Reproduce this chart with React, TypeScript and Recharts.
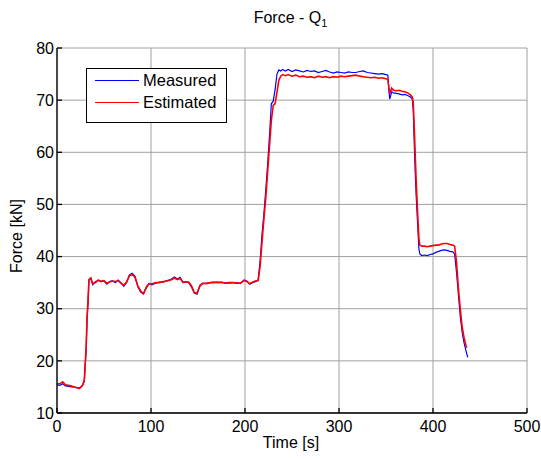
import { LineChart, Line, XAxis, YAxis, CartesianGrid } from "recharts";

const FONT = "'Liberation Sans', Arial, sans-serif";

const time = [
  0, 3, 6, 9, 12, 15, 18, 21, 24, 27,
  29, 30, 31, 32, 33, 34, 36,
  38, 41, 44, 47, 50, 53, 56, 59, 62, 65, 68, 71, 74, 77, 80, 83, 86, 89, 92, 95, 98, 101,
  105, 109, 113, 117, 121, 125, 128, 131, 134, 137, 140, 143, 146, 149, 152, 155, 159, 163,
  167, 171, 175, 179, 183, 187, 191, 195, 199, 202, 205, 208, 211,
  214, 216, 218, 220, 222, 224, 226, 228, 230, 232, 234, 236, 238, 240,
  243, 246, 250, 254, 258, 262, 266, 270, 274, 278, 282, 286, 290, 294, 298, 302, 306, 310,
  314, 318, 322, 326, 330, 334, 338, 342, 346, 350,
  352, 353, 354, 356, 358, 361, 364, 367, 370, 373, 376, 378,
  379, 380, 381, 382, 383, 384, 385, 386, 388,
  391, 394, 397, 400, 403, 406, 409, 412, 415, 418, 421,
  423, 425, 427, 429, 431, 433, 435, 436, 437,
];

const measured = [
  15.4, 15.3, 15.6, 15.2, 15.1, 15.0, 15.0, 14.8, 14.8, 15.2,
  16.0, 19.0, 22.0, 28.0, 31.0, 35.5, 35.8,
  34.6, 35.2, 35.4, 35.3, 35.3, 34.7, 35.2, 35.4, 35.0, 35.5, 35.0, 34.3, 35.0, 36.5, 36.8, 36.2, 34.2, 33.2, 32.8, 34.2, 34.9, 34.6,
  34.9, 35.1, 35.1, 35.4, 35.6, 36.1, 35.7, 36.0, 35.0, 35.2, 35.0, 34.2, 33.0, 32.8, 34.5, 34.8, 34.9, 35.0,
  35.0, 35.1, 35.0, 35.0, 34.9, 35.0, 35.0, 34.8, 35.5, 35.3, 34.7, 35.0, 35.2,
  35.5, 39.0, 44.0, 48.0, 52.5, 57.5, 63.0, 69.3, 69.8, 72.0, 75.0, 75.8, 75.6, 75.9,
  75.6, 75.9, 75.5, 75.8, 75.6, 75.4, 75.7, 75.5, 75.6, 75.3, 75.5, 75.7, 75.4, 75.2, 75.4, 75.3, 75.2, 75.4,
  75.3, 75.3, 75.5, 75.6, 75.3, 75.2, 75.1, 75.0, 75.1, 74.9,
  74.8, 72.0, 70.2, 71.6, 71.4, 71.3, 71.2, 71.0, 71.1, 70.9, 70.6, 70.2,
  68.0, 62.0, 56.5, 52.0, 48.5, 45.0, 41.5, 40.5, 40.2,
  40.3, 40.2, 40.4, 40.5, 40.8, 41.0, 41.2, 41.3, 41.2, 41.0, 40.9,
  40.5, 37.0, 32.8, 28.5, 25.5, 23.5, 22.0, 21.3, 20.7,
];

const estimated = [
  15.6, 15.6, 16.0, 15.4, 15.3, 15.2, 15.0, 14.9, 14.7, 15.3,
  16.2, 19.5, 22.5, 28.5, 31.5, 35.6, 35.9,
  34.8, 35.0, 35.5, 35.2, 35.4, 34.9, 35.1, 35.3, 35.2, 35.4, 34.9, 34.5, 35.1, 36.3, 36.6, 36.0, 34.4, 33.4, 32.9, 34.0, 34.8, 34.8,
  35.0, 35.0, 35.2, 35.3, 35.5, 35.9, 35.6, 35.8, 35.1, 35.1, 35.1, 34.4, 33.1, 33.0, 34.3, 34.9, 34.8, 35.0,
  35.1, 35.0, 35.1, 34.9, 35.0, 35.0, 34.9, 34.9, 35.4, 35.2, 34.8, 35.1, 35.3,
  35.4, 38.0, 42.5, 47.0, 51.0, 56.0, 61.0, 66.0, 69.0, 69.3, 71.5, 73.8, 74.6, 74.9,
  74.7, 74.9, 74.6, 74.8, 74.5, 74.6, 74.4, 74.5, 74.3, 74.6, 74.4, 74.5, 74.3, 74.5, 74.4, 74.6, 74.5, 74.6,
  74.7, 74.8, 74.6, 74.5, 74.4, 74.3, 74.4, 74.2, 74.3, 74.1,
  74.0, 72.5, 71.2, 72.3, 71.9, 71.8, 71.9, 71.7, 71.6, 71.4, 71.0, 70.6,
  69.5, 65.0, 60.0, 55.0, 51.0, 47.0, 43.5, 42.2, 42.0,
  42.0, 41.9, 42.0, 42.1, 42.2, 42.2, 42.4, 42.5, 42.5, 42.3, 42.2,
  42.0, 39.0, 34.0, 30.0, 26.5, 24.5, 23.0, 22.5, null,
];

const xTicks = [0, 100, 200, 300, 400, 500];
const yTicks = [10, 20, 30, 40, 50, 60, 70, 80];

const data = time.map((t, i) => ({ t, measured: measured[i], estimated: estimated[i] }));

const tickStyle = { fill: "#000", fontSize: 16, fontFamily: FONT };

export default function App() {
  return (
    <div style={{ position: "absolute", left: 0, top: 0, width: 541, height: 460, background: "#fff" }}>
      <LineChart
        width={541}
        height={460}
        data={data}
        margin={{ top: 48, right: 14, left: 0, bottom: 0 }}
      >
        <CartesianGrid stroke="#a0a0a0" strokeWidth={1} />
        <XAxis
          dataKey="t"
          type="number"
          domain={[0, 500]}
          ticks={xTicks}
          height={47}
          tickSize={-5}
          tickMargin={13}
          stroke="#000"
          strokeWidth={1.3}
          tick={tickStyle}
          allowDataOverflow
        />
        <XAxis
          xAxisId="top"
          orientation="top"
          dataKey="t"
          type="number"
          domain={[0, 500]}
          ticks={xTicks}
          height={0}
          tickSize={-5}
          tickFormatter={() => ""}
          stroke="#000"
        />
        <YAxis
          type="number"
          domain={[10, 80]}
          ticks={yTicks}
          width={57}
          tickSize={-5}
          tickMargin={8}
          stroke="#000"
          strokeWidth={1.3}
          tick={tickStyle}
        />
        <YAxis
          yAxisId="right"
          orientation="right"
          type="number"
          domain={[10, 80]}
          ticks={yTicks}
          width={0}
          tickSize={-5}
          tickFormatter={() => ""}
          stroke="#000"
        />
        <Line
          dataKey="measured"
          stroke="#0000ff"
          strokeWidth={1.2}
          dot={false}
          type="linear"
          isAnimationActive={false}
        />
        <Line
          dataKey="estimated"
          stroke="#ff0000"
          strokeWidth={1.6}
          dot={false}
          type="linear"
          isAnimationActive={false}
        />
      </LineChart>

      {/* title */}
      <div
        style={{
          position: "absolute", left: 0, width: 581, top: 9, textAlign: "center",
          fontFamily: FONT, fontSize: 16, color: "#000",
        }}
      >
        Force - Q<sub style={{ fontSize: 11 }}>1</sub>
      </div>

      {/* axis labels */}
      <div
        style={{
          position: "absolute", left: 0, width: 582, top: 434, textAlign: "center",
          fontFamily: FONT, fontSize: 16, color: "#000",
        }}
      >
        Time [s]
      </div>
      <div style={{ position: "absolute", left: 17, top: 237, width: 0, height: 0 }}>
        <div
          style={{
            position: "absolute", left: -60, top: -10, width: 120, textAlign: "center",
            transform: "rotate(-90deg)", fontFamily: FONT, fontSize: 16, color: "#000",
            whiteSpace: "nowrap",
          }}
        >
          Force [kN]
        </div>
      </div>

      {/* legend */}
      <div
        style={{
          position: "absolute", left: 86, top: 68, width: 141, height: 55, boxSizing: "border-box",
          border: "1px solid #000", background: "#fff", fontFamily: FONT, fontSize: 16.5, color: "#000",
        }}
      >
        {[
          { name: "Measured", color: "#0000ff" },
          { name: "Estimated", color: "#ff0000" },
        ].map((s, i) => (
          <div key={s.name} style={{ position: "absolute", left: 8, top: 1 + i * 22, height: 20, display: "flex", alignItems: "center" }}>
            <span style={{ display: "inline-block", width: 44, height: 0, borderTop: `${i ? 1.6 : 1.2}px solid ${s.color}`, marginRight: 4 }} />
            <span>{s.name}</span>
          </div>
        ))}
      </div>
    </div>
  );
}
